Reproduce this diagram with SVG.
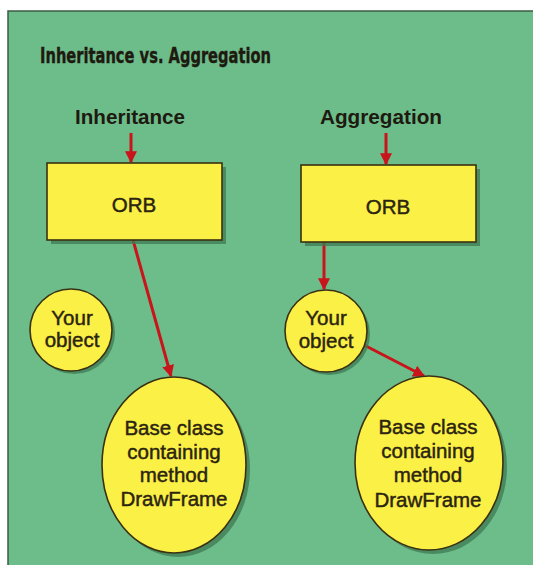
<svg xmlns="http://www.w3.org/2000/svg" width="533" height="565" viewBox="0 0 533 565">
<defs>
<style>
.node{fill:#fbf046;stroke:#3a3012;stroke-width:1.6}
.shadow{fill:#3f7a52;opacity:0.75}
.lbl{font-family:"Liberation Sans",Arial,sans-serif;fill:#2b2410;stroke:#2b2410;stroke-width:0.45;text-anchor:middle;font-size:20.5px}
.hdr{font-family:"Liberation Sans",Arial,sans-serif;font-weight:bold;font-size:20px;fill:#1e1a10;text-anchor:middle}
.con{stroke:#c8141a;stroke-width:3;fill:none}
</style>
<marker id="ah" viewBox="0 0 10 10" refX="9" refY="5" markerWidth="4" markerHeight="4" markerUnits="strokeWidth" orient="auto">
<path d="M0,0 L10,5 L0,10 z" fill="#c8141a"/>
</marker>
</defs>
<rect x="0" y="0" width="533" height="565" fill="#ffffff"/>
<rect x="8" y="11" width="525" height="554" fill="#6dbd8b"/>
<path d="M8,565 L8,11 L533,11" fill="none" stroke="#3d5a45" stroke-width="1.5"/>
<text x="40" y="63" font-family="'DejaVu Sans Condensed','Liberation Sans',sans-serif" font-weight="bold" font-size="22" fill="#1e1a10" stroke="#1e1a10" stroke-width="0.4" textLength="231" lengthAdjust="spacingAndGlyphs">Inheritance vs. Aggregation</text>
<text class="hdr" x="130" y="124" textLength="110" lengthAdjust="spacingAndGlyphs">Inheritance</text>
<text class="hdr" x="381" y="124" textLength="122" lengthAdjust="spacingAndGlyphs">Aggregation</text>
<g id="connectors">
<line class="con" x1="131" y1="133" x2="131" y2="162" marker-end="url(#ah)"/>
<line class="con" x1="386" y1="133" x2="386" y2="164" marker-end="url(#ah)"/>
<line class="con" x1="133" y1="240" x2="171" y2="376" marker-end="url(#ah)"/>
<line class="con" x1="324" y1="242" x2="324" y2="289" marker-end="url(#ah)"/>
<line class="con" x1="364" y1="345" x2="424" y2="376" marker-end="url(#ah)"/>
</g>
<g id="orb-left">
<rect class="shadow" x="51" y="167" width="175" height="77"/>
<rect class="node" x="47" y="163" width="175" height="77"/>
<text class="lbl" x="134" y="212">ORB</text>
</g>
<g id="orb-right">
<rect class="shadow" x="305" y="169" width="175" height="77"/>
<rect class="node" x="301" y="165" width="175" height="77"/>
<text class="lbl" x="388" y="214">ORB</text>
</g>
<g id="object-left">
<circle class="shadow" cx="74" cy="333" r="41"/>
<circle class="node" cx="71" cy="330" r="41"/>
<text class="lbl" x="72" y="325">Your</text>
<text class="lbl" x="72" y="347">object</text>
</g>
<g id="object-right">
<circle class="shadow" cx="329" cy="334" r="41"/>
<circle class="node" cx="326" cy="331" r="41"/>
<text class="lbl" x="326" y="325">Your</text>
<text class="lbl" x="326" y="348">object</text>
</g>
<g id="base-left">
<ellipse class="shadow" cx="178" cy="469" rx="72" ry="88"/>
<ellipse class="node" cx="174" cy="465" rx="72" ry="88"/>
<text class="lbl" x="174" y="435">Base class</text>
<text class="lbl" x="174" y="459">containing</text>
<text class="lbl" x="174" y="482">method</text>
<text class="lbl" x="174" y="506">DrawFrame</text>
</g>
<g id="base-right">
<ellipse class="shadow" cx="433" cy="467" rx="74" ry="87"/>
<ellipse class="node" cx="429" cy="463" rx="74" ry="87"/>
<text class="lbl" x="428" y="434">Base class</text>
<text class="lbl" x="428" y="458">containing</text>
<text class="lbl" x="428" y="482">method</text>
<text class="lbl" x="428" y="507">DrawFrame</text>
</g>
</svg>
